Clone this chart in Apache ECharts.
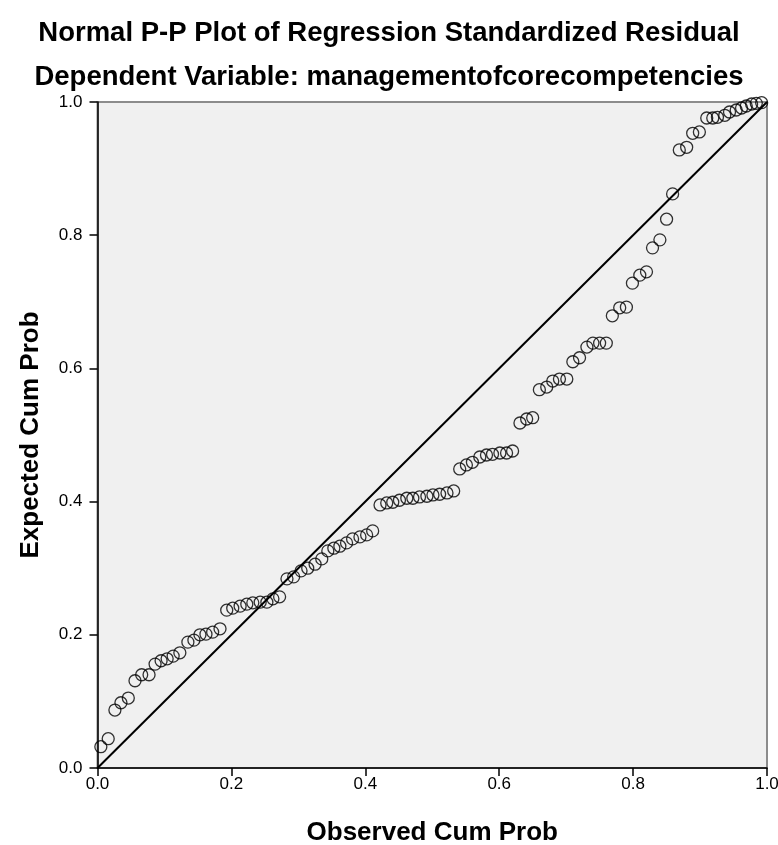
<!DOCTYPE html>
<html>
<head>
<meta charset="utf-8">
<script src="https://cdn.jsdelivr.net/npm/echarts@6/dist/echarts.min.js"></script>
<style>
html,body{margin:0;padding:0;background:#fff;}
#chart{width:778px;height:845px;}
</style>
</head>
<body>
<div id="chart"></div>
<script>
// Observed cumulative probability (x) and expected cumulative probability (y)
var observedCumProb = [
  0.005,0.016,0.026,0.035,0.046,0.056,0.066,0.077,0.086,0.095,
  0.104,0.113,0.123,0.135,0.144,0.153,0.162,0.172,0.183,0.193,
  0.202,0.213,0.223,0.232,0.243,0.253,0.262,0.272,0.283,0.293,
  0.304,0.314,0.325,0.335,0.344,0.353,0.362,0.372,0.381,0.392,
  0.402,0.411,0.422,0.432,0.441,0.451,0.462,0.471,0.481,0.492,
  0.501,0.511,0.522,0.532,0.541,0.551,0.560,0.571,0.581,0.590,
  0.601,0.611,0.620,0.631,0.641,0.650,0.660,0.671,0.680,0.690,
  0.701,0.710,0.720,0.731,0.740,0.750,0.760,0.769,0.780,0.790,
  0.799,0.810,0.820,0.829,0.840,0.850,0.859,0.869,0.880,0.889,
  0.899,0.910,0.919,0.926,0.937,0.944,0.954,0.962,0.969,0.977,
  0.984,0.992
];
var expectedCumProb = [
  0.032,0.044,0.087,0.098,0.105,0.131,0.140,0.140,0.156,0.161,
  0.164,0.168,0.173,0.189,0.192,0.200,0.201,0.204,0.209,0.237,
  0.240,0.243,0.246,0.248,0.249,0.249,0.254,0.257,0.284,0.287,
  0.296,0.300,0.306,0.314,0.326,0.330,0.333,0.338,0.344,0.347,
  0.350,0.356,0.395,0.398,0.399,0.402,0.405,0.405,0.407,0.408,
  0.410,0.411,0.413,0.416,0.449,0.455,0.459,0.467,0.470,0.471,
  0.473,0.473,0.476,0.518,0.524,0.526,0.568,0.572,0.581,0.584,
  0.584,0.610,0.616,0.632,0.638,0.638,0.638,0.679,0.691,0.692,
  0.728,0.740,0.745,0.781,0.793,0.824,0.862,0.928,0.932,0.953,
  0.955,0.976,0.976,0.977,0.980,0.985,0.988,0.991,0.994,0.997,
  0.998,0.999
];
var refLineX = [0, 1];
var refLineY = [0, 1];
var tickValues = [0, 0.2, 0.4, 0.6, 0.8, 1.0];

var titleText = 'Normal P-P Plot of Regression Standardized Residual';
var subtitleText = 'Dependent Variable: managementofcorecompetencies';
var xName = 'Observed Cum Prob';
var yName = 'Expected Cum Prob';

var FONT = '"Liberation Sans", Arial, sans-serif';

var points = observedCumProb.map(function (x, i) { return [x, expectedCumProb[i]]; });
var ref = refLineX.map(function (x, i) { return [x, refLineY[i]]; });

var chart = echarts.init(document.getElementById('chart'), null, {renderer: 'canvas'});
chart.setOption({
  animation: false,
  backgroundColor: '#ffffff',
  title: [
    {text: titleText, left: 'center', top: 14,
     textStyle: {fontFamily: FONT, fontSize: 27.5, fontWeight: 'bold', color: '#000'}},
    {text: subtitleText, left: 'center', top: 58,
     textStyle: {fontFamily: FONT, fontSize: 27.5, fontWeight: 'bold', color: '#000'}}
  ],
  grid: {
    left: 97.5, right: 11, top: 102, bottom: 77,
    outerBoundsMode: 'none', containLabel: false,
    show: true, backgroundColor: '#f0f0f0', borderColor: '#8c8c8c', borderWidth: 2
  },
  xAxis: {
    type: 'value', min: 0, max: 1, interval: 0.2,
    name: xName, nameLocation: 'middle', nameGap: 52,
    nameTextStyle: {fontFamily: FONT, fontSize: 26, fontWeight: 'bold', color: '#000'},
    axisLine: {show: true, lineStyle: {color: '#000', width: 1.5}},
    axisTick: {show: true, length: 8, lineStyle: {color: '#000', width: 1.5}},
    axisLabel: {fontFamily: FONT, fontSize: 17, color: '#000', margin: 8,
      formatter: function (v) { return v.toFixed(1); }},
    splitLine: {show: false}
  },
  yAxis: {
    type: 'value', min: 0, max: 1, interval: 0.2,
    name: yName, nameLocation: 'middle', nameGap: 54, nameRotate: 90,
    nameTextStyle: {fontFamily: FONT, fontSize: 26, fontWeight: 'bold', color: '#000'},
    axisLine: {show: true, lineStyle: {color: '#000', width: 1.5}},
    axisTick: {show: true, length: 8, lineStyle: {color: '#000', width: 1.5}},
    axisLabel: {fontFamily: FONT, fontSize: 17, color: '#000', margin: 15,
      formatter: function (v) { return v.toFixed(1); }},
    splitLine: {show: false}
  },
  series: [
    {
      type: 'line', data: ref, symbol: 'none', silent: true,
      lineStyle: {color: '#000', width: 2}, z: 2
    },
    {
      type: 'scatter', data: points, symbol: 'circle', symbolSize: 12,
      itemStyle: {color: 'rgba(0,0,0,0)', borderColor: '#000', borderWidth: 1.3}, z: 3
    }
  ]
});
</script>
</body>
</html>
